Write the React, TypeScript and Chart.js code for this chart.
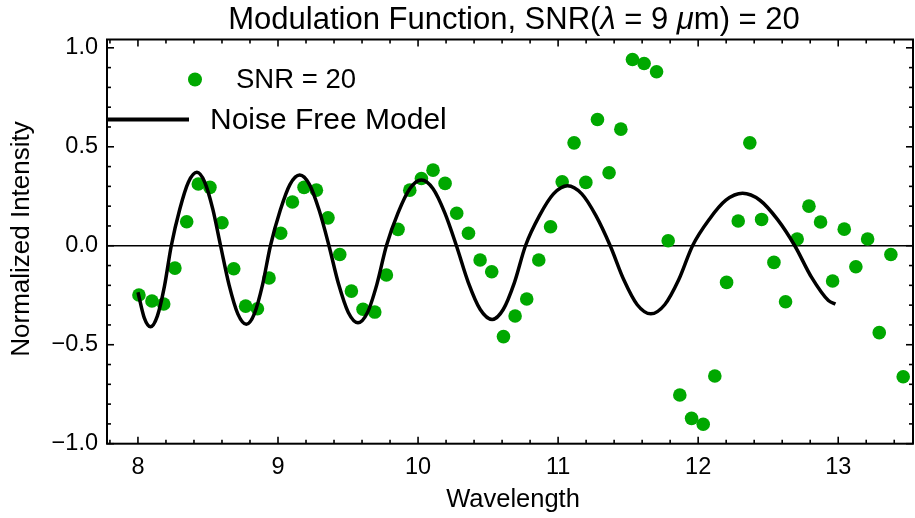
import React, { useEffect, useRef } from 'react';
import { Chart, registerables } from 'chart.js';
Chart.register(...registerables);

const snrWavelength = [
  8.007, 8.10, 8.184, 8.264, 8.348, 8.431, 8.514, 8.60, 8.684, 8.769, 8.853, 8.936,
  9.019, 9.103, 9.186, 9.274, 9.357, 9.441, 9.524, 9.607, 9.691, 9.774, 9.857, 9.941,
  10.024, 10.107, 10.193, 10.276, 10.36, 10.443, 10.526, 10.61, 10.693, 10.776, 10.862, 10.946,
  11.029, 11.114, 11.198, 11.281, 11.364, 11.448, 11.531, 11.614, 11.703, 11.786, 11.869, 11.953,
  12.036, 12.119, 12.203, 12.286, 12.369, 12.453, 12.541, 12.624, 12.707, 12.791, 12.874, 12.96,
  13.043, 13.126, 13.21, 13.293, 13.376, 13.464,
];
const snrIntensity = [
  -0.249, -0.279, -0.294, -0.113, 0.121, 0.312, 0.295, 0.116, -0.116, -0.305, -0.318, -0.163,
  0.063, 0.221, 0.295, 0.281, 0.141, -0.044, -0.229, -0.321, -0.335, -0.148, 0.083, 0.281,
  0.340, 0.382, 0.315, 0.164, 0.063, -0.072, -0.131, -0.459, -0.355, -0.269, -0.072, 0.096,
  0.323, 0.520, 0.320, 0.638, 0.369, 0.589, 0.941, 0.921, 0.879, 0.025, -0.754, -0.872,
  -0.902, -0.658, -0.185, 0.125, 0.520, 0.133, -0.084, -0.283, 0.034, 0.200, 0.120, -0.178,
  0.084, -0.106, 0.034, -0.439, -0.044, -0.662,
];

const modelWavelength = [
  8.00, 8.045, 8.09, 8.139, 8.189, 8.238, 8.299, 8.36, 8.421, 8.477, 8.534,
  8.59, 8.651, 8.713, 8.774, 8.831, 8.889, 8.946, 9.016, 9.085, 9.155, 9.225, 9.294,
  9.364, 9.433, 9.502, 9.571, 9.639, 9.706, 9.774, 9.857, 9.941, 10.024, 10.107, 10.191,
  10.274, 10.359, 10.444, 10.529, 10.608, 10.688, 10.767, 10.867, 10.967, 11.067, 11.169, 11.27,
  11.372, 11.469, 11.565, 11.662, 11.761, 11.861, 11.96, 12.079, 12.198, 12.317, 12.441, 12.566,
  12.69, 12.81, 12.93, 12.98,
];
const modelIntensity = [
  -0.235, -0.364, -0.409, -0.354, -0.205, 0, 0.186, 0.321, 0.371, 0.321, 0.186,
  0, -0.199, -0.344, -0.397, -0.344, -0.199, 0, 0.179, 0.309, 0.357, 0.309, 0.179,
  0, -0.195, -0.337, -0.389, -0.337, -0.195, 0, 0.166, 0.288, 0.332, 0.288, 0.166,
  0, -0.186, -0.322, -0.372, -0.322, -0.186, 0, 0.152, 0.262, 0.303, 0.262, 0.152,
  0, -0.172, -0.298, -0.344, -0.298, -0.172, 0, 0.133, 0.23, 0.265, 0.23, 0.133,
  0, -0.16, -0.277, -0.295,
];

const xTickValues = [8, 9, 10, 11, 12, 13];
const xMinorTickValues = [
  7.8, 8.2, 8.4, 8.6, 8.8, 9.2, 9.4, 9.6, 9.8, 10.2, 10.4, 10.6, 10.8,
  11.2, 11.4, 11.6, 11.8, 12.2, 12.4, 12.6, 12.8, 13.2, 13.4,
];
const yTickValues = [-1, -0.5, 0, 0.5, 1];
const yMinorTickValues = [
  -0.9, -0.8, -0.7, -0.6, -0.4, -0.3, -0.2, -0.1, 0.1, 0.2, 0.3, 0.4, 0.6, 0.7, 0.8, 0.9,
];

const titleParts: [string, boolean][] = [
  ['Modulation Function, SNR(', false],
  ['\u03bb', true],
  [' = 9 ', false],
  ['\u03bc', true],
  ['m) = 20', false],
];
const xAxisTitle = 'Wavelength';
const yAxisTitle = 'Normalized Intensity';
const snrLabel = 'SNR = 20';
const modelLabel = 'Noise Free Model';

const FONT = '"Liberation Sans", Arial, sans-serif';
const GREEN = 'rgb(0,168,0)';

const decorPlugin = {
  id: 'decor',
  beforeDatasetsDraw(chart: any) {
    const { ctx, chartArea, scales } = chart;
    const y0 = scales.y.getPixelForValue(0);
    ctx.save();
    ctx.strokeStyle = '#000';
    ctx.lineWidth = 1.5;
    ctx.beginPath();
    ctx.moveTo(chartArea.left, y0);
    ctx.lineTo(chartArea.right, y0);
    ctx.stroke();
    ctx.restore();
  },
  afterDraw(chart: any) {
    const { ctx, chartArea, scales } = chart;
    const { left, right, top, bottom } = chartArea;
    ctx.save();
    ctx.strokeStyle = '#000';
    ctx.lineWidth = 2;
    ctx.strokeRect(left, top, right - left, bottom - top);
    ctx.lineWidth = 1.6;
    const tick = (x1: number, y1: number, x2: number, y2: number) => {
      ctx.beginPath();
      ctx.moveTo(x1, y1);
      ctx.lineTo(x2, y2);
      ctx.stroke();
    };
    xTickValues.forEach((v) => {
      const x = scales.x.getPixelForValue(v);
      tick(x, bottom, x, bottom - 7);
      tick(x, top, x, top + 7);
    });
    xMinorTickValues.forEach((v) => {
      const x = scales.x.getPixelForValue(v);
      tick(x, bottom, x, bottom - 4);
      tick(x, top, x, top + 4);
    });
    yTickValues.forEach((v) => {
      const y = scales.y.getPixelForValue(v);
      tick(left, y, left + 7, y);
      tick(right, y, right - 7, y);
    });
    yMinorTickValues.forEach((v) => {
      const y = scales.y.getPixelForValue(v);
      tick(left, y, left + 4, y);
      tick(right, y, right - 4, y);
    });

    // Title
    ctx.fillStyle = '#000';
    ctx.textBaseline = 'alphabetic';
    const tSize = 31;
    let total = 0;
    const widths = titleParts.map(([t, it]) => {
      ctx.font = `${it ? 'italic ' : ''}${tSize}px ${FONT}`;
      const w = ctx.measureText(t).width;
      total += w;
      return w;
    });
    let tx = 514 - total / 2;
    titleParts.forEach(([t, it], i) => {
      ctx.font = `${it ? 'italic ' : ''}${tSize}px ${FONT}`;
      ctx.textAlign = 'left';
      ctx.fillText(t, tx, 29);
      tx += widths[i];
    });

    // Axis titles
    ctx.font = `25.5px ${FONT}`;
    ctx.textAlign = 'center';
    ctx.textBaseline = 'middle';
    ctx.fillText(xAxisTitle, 513, 500);
    ctx.save();
    ctx.font = `26px ${FONT}`;
    ctx.translate(22, 239);
    ctx.rotate(-Math.PI / 2);
    ctx.fillText(yAxisTitle, 0, 0);
    ctx.restore();

    // Legend
    ctx.textAlign = 'left';
    ctx.textBaseline = 'middle';
    ctx.fillStyle = GREEN;
    ctx.beginPath();
    ctx.arc(left + 88, top + 40, 7, 0, Math.PI * 2);
    ctx.fill();
    ctx.fillStyle = '#000';
    ctx.font = `27.5px ${FONT}`;
    ctx.fillText(snrLabel, left + 129, top + 41);
    ctx.strokeStyle = '#000';
    ctx.lineWidth = 4;
    ctx.beginPath();
    ctx.moveTo(left, top + 80);
    ctx.lineTo(left + 82, top + 80);
    ctx.stroke();
    ctx.font = `30px ${FONT}`;
    ctx.fillText(modelLabel, left + 103, top + 81);
    ctx.restore();
  },
};

export default function App() {
  const ref = useRef<HTMLCanvasElement | null>(null);
  useEffect(() => {
    if (!ref.current) return;
    const chart = new Chart(ref.current, {
      type: 'line',
      data: {
        datasets: [
          {
            label: modelLabel,
            data: modelWavelength.map((x, i) => ({ x, y: modelIntensity[i] })),
            borderColor: '#000',
            borderWidth: 3.5,
            pointRadius: 0,
            cubicInterpolationMode: 'monotone',
            fill: false,
            order: 0,
          },
          {
            label: snrLabel,
            data: snrWavelength.map((x, i) => ({ x, y: snrIntensity[i] })),
            showLine: false,
            pointRadius: 6.8,
            pointBackgroundColor: GREEN,
            pointBorderColor: GREEN,
            pointBorderWidth: 0,
            order: 1,
          },
        ],
      } as any,
      options: {
        animation: false,
        responsive: false,
        devicePixelRatio: 1,
        layout: { autoPadding: false, padding: { top: 39.5, right: 2, left: 0, bottom: 0 } },
        plugins: { legend: { display: false }, tooltip: { enabled: false }, title: { display: false } },
        scales: {
          x: {
            type: 'linear',
            min: 7.779,
            max: 13.534,
            grid: { display: false, drawTicks: false },
            border: { display: false },
            ticks: {
              color: '#000',
              font: { family: FONT, size: 23.5 },
              padding: 10,
              maxRotation: 0,
              autoSkip: false,
              callback: (v: any) => String(v),
            },
            afterBuildTicks: (s: any) => {
              s.ticks = xTickValues.map((value) => ({ value }));
            },
            afterFit: (s: any) => {
              s.height = 518 - 443.7;
              s.paddingLeft = 0;
              s.paddingRight = 0;
            },
          },
          y: {
            type: 'linear',
            min: -1.0,
            max: 1.042,
            grid: { display: false, drawTicks: false },
            border: { display: false },
            ticks: {
              color: '#000',
              font: { family: FONT, size: 23.5 },
              padding: 9,
              autoSkip: false,
              callback: (v: any) => (v < 0 ? '\u2212' : '') + Math.abs(Number(v)).toFixed(1),
            },
            afterBuildTicks: (s: any) => {
              s.ticks = yTickValues.map((value) => ({ value }));
            },
            afterFit: (s: any) => {
              s.width = 107;
              s.paddingTop = 0;
              s.paddingBottom = 0;
            },
          },
        },
      } as any,
      plugins: [decorPlugin],
    });
    return () => chart.destroy();
  }, []);
  return (
    <div style={{ position: 'fixed', left: 0, top: 0, width: 915, height: 518, background: '#fff' }}>
      <canvas ref={ref} width={915} height={518} style={{ display: 'block' }} />
    </div>
  );
}
